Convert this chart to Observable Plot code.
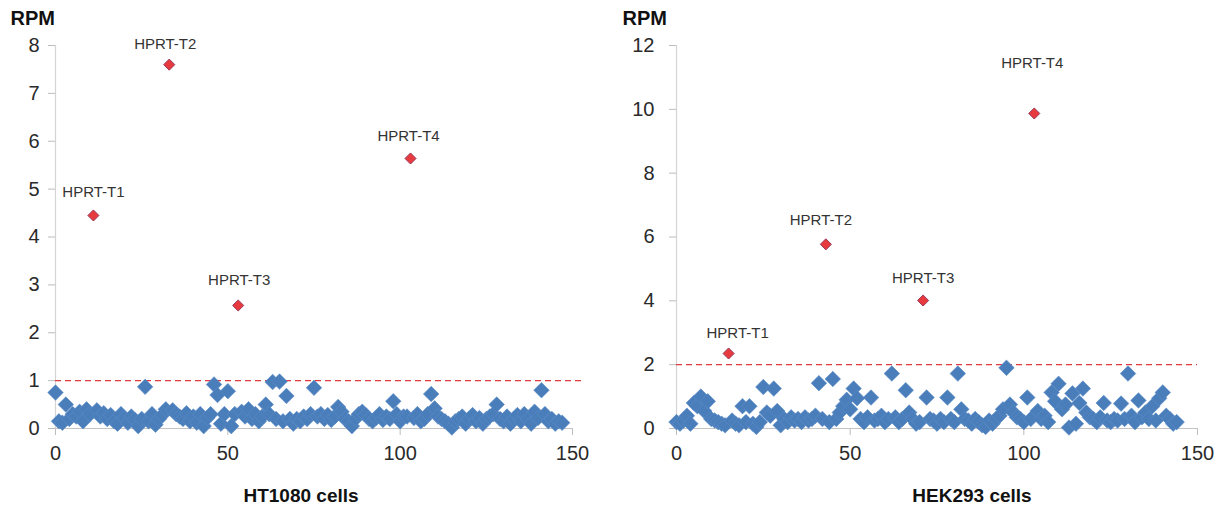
<!DOCTYPE html>
<html>
<head>
<meta charset="utf-8">
<script src="https://cdn.jsdelivr.net/npm/d3@7"></script>
<script src="https://cdn.jsdelivr.net/npm/@observablehq/plot@0.6"></script>
<style>
  html, body { margin: 0; padding: 0; background: #fff; }
  #wrap { display: flex; width: 1214px; height: 506px; }
  #wrap > div { width: 607px; height: 506px; }
  svg { overflow: visible; }
</style>
</head>
<body>
<div id="wrap"><div id="left"></div><div id="right"></div></div>
<script>
// ---------- data ----------
const xTicks = [0, 50, 100, 150];
const hitLabels = ["HPRT-T1", "HPRT-T2", "HPRT-T3", "HPRT-T4"];

// HT1080: RPM per guide index (null = HPRT hit, drawn in red)
const ht1080RPM = [
  0.75,0.15,0.12,0.5,0.2,0.3,0.25,0.35,0.15,0.4,0.3,null,0.38,0.25,0.32,0.2,0.28,0.15,0.1,0.3,
  0.22,0.12,0.25,0.18,0.05,0.2,0.87,0.15,0.3,0.08,0.2,0.28,0.4,null,0.38,0.3,0.25,0.2,0.32,0.15,
  0.25,0.12,0.3,0.05,0.22,0.3,0.92,0.7,0.1,0.3,0.78,0.05,0.3,null,0.35,0.25,0.4,0.2,0.3,0.15,
  0.25,0.5,0.3,0.97,0.2,0.98,0.15,0.68,0.2,0.1,0.2,0.15,0.25,0.2,0.3,0.85,0.25,0.3,0.2,0.28,
  0.18,0.25,0.45,0.35,0.2,0.15,0.05,0.2,0.3,0.35,0.28,0.2,0.15,0.22,0.3,0.18,0.25,0.2,0.57,0.3,
  0.15,0.25,0.25,null,0.22,0.3,0.15,0.2,0.3,0.72,0.42,0.25,0.2,0.15,0.1,0.02,0.15,0.2,0.25,0.1,
  0.2,0.28,0.15,0.22,0.1,0.2,0.25,0.3,0.5,0.2,0.15,0.25,0.1,0.2,0.28,0.15,0.3,0.2,0.1,0.35,
  0.22,0.8,0.3,0.15,0.2,0.1,0.15,0.12
];
const ht1080HitIndex = [11, 33, 53, 103];
const ht1080HitRPM = [4.45, 7.6, 2.57, 5.64];

// HEK293
const hek293RPM = [
  0.2,0.15,0.25,0.4,0.15,0.8,0.7,1.0,0.55,0.85,0.3,0.25,0.2,0.15,0.1,null,0.25,0.15,0.1,0.7,
  0.2,0.7,0.15,0.05,0.2,1.3,0.5,0.4,1.25,0.55,0.1,0.3,0.2,0.35,0.25,0.3,0.2,0.35,0.25,0.3,
  0.4,1.42,0.3,null,0.2,1.55,0.3,0.5,0.7,0.9,0.6,1.25,0.95,0.3,0.2,0.35,0.97,0.25,0.3,0.4,
  0.2,0.3,1.72,0.35,0.2,0.3,1.2,0.5,0.3,0.15,0.2,null,0.97,0.3,0.25,0.15,0.3,0.2,0.97,0.3,
  0.2,1.72,0.6,0.3,0.25,0.15,0.3,0.2,0.1,0.05,0.25,0.15,0.3,0.4,0.6,1.9,0.75,0.5,0.35,0.3,
  0.2,0.97,0.3,null,0.55,0.3,0.4,0.2,1.13,0.85,1.4,0.6,0.75,0.03,1.1,0.15,0.8,1.25,0.5,0.35,
  0.3,0.2,0.35,0.8,0.25,0.2,0.3,0.25,0.78,0.3,1.72,0.4,0.2,0.88,0.35,0.5,0.3,0.7,0.25,0.95,
  1.13,0.4,0.3,0.15,0.2
];
const hek293HitIndex = [15, 43, 71, 103];
const hek293HitRPM = [2.35, 5.77, 4.01, 9.87];

// ---------- layout / style (kept apart from data) ----------
const BLUE = "#4a7ebb";
const RED = "#e63a3f";
const FONT = "'Liberation Sans', Helvetica, Arial, sans-serif";

function panel(cfg) {
  const blue = cfg.values
    .map((v, i) => ({i, v}))
    .filter(d => d.v != null);
  const hits = cfg.hitIndex.map((i, k) => ({i, v: cfg.hitRPM[k], label: hitLabels[k]}));
  const labelMarks = hits.map((h, k) =>
    Plot.text([h], {x: "i", y: "v", text: "label", dx: cfg.labelOff[k][0], dy: cfg.labelOff[k][1],
      fontSize: 15, fill: "#333", lineAnchor: "middle"}));
  return Plot.plot({
    width: 607, height: 506,
    marginLeft: cfg.ml, marginRight: cfg.mr, marginTop: 45, marginBottom: 78,
    style: {fontFamily: FONT, background: "transparent", overflow: "visible"},
    x: {domain: [0, 150]},
    y: {domain: [0, cfg.yMax]},
    marks: [
      Plot.ruleX([0], {stroke: "#d4d4d4", strokeWidth: 1.2}),
      Plot.axisY({ticks: cfg.yTicks, tickSize: 7, tickPadding: cfg.yPad, fontSize: 20,
        stroke: "#bdbdbd", fill: "#2a2a2a", label: null}),
      Plot.axisX({ticks: xTicks, tickSize: 7, tickPadding: 10, fontSize: 20,
        stroke: "#bdbdbd", fill: "#2a2a2a", label: null}),
      Plot.ruleY([0], {stroke: "#c4c4c4", strokeWidth: 1.2}),
      Plot.ruleY([cfg.threshold], {x1: 0, x2: cfg.dashEnd, stroke: "#e0393e",
        strokeDasharray: "6,4", strokeWidth: 1.2, clip: false}),
      Plot.dot(blue, {x: "i", y: "v", symbol: "diamond2", r: 7, fill: BLUE,
        stroke: "#5a8bc6", strokeWidth: 0.6}),
      Plot.dot(hits, {x: "i", y: "v", symbol: "diamond2", r: 5, fill: RED,
        stroke: "#9a3b5e", strokeWidth: 1}),
      ...labelMarks,
      Plot.text(["RPM"], {text: d => d, frameAnchor: "top-left", dx: cfg.rpmDx, dy: -27,
        textAnchor: "start", lineAnchor: "middle", fontSize: 20, fontWeight: "bold", fill: "#111"}),
      Plot.text([cfg.xlabel], {text: d => d, frameAnchor: "bottom", dx: cfg.titleDx, dy: 67,
        lineAnchor: "middle", fontSize: 19, fontWeight: "bold", fill: "#111"})
    ]
  });
}

document.getElementById("left").append(panel({
  values: ht1080RPM, hitIndex: ht1080HitIndex, hitRPM: ht1080HitRPM,
  yMax: 8, yTicks: d3.range(0, 9, 1), threshold: 1, dashEnd: 153,
  xlabel: "HT1080 cells", ml: 55, mr: 35, yPad: 9, rpmDx: -45, titleDx: -13,
  labelOff: [[0, -23], [-4, -20], [1, -25], [-2, -22]]
}));

document.getElementById("right").append(panel({
  values: hek293RPM, hitIndex: hek293HitIndex, hitRPM: hek293HitRPM,
  yMax: 12, yTicks: d3.range(0, 13, 2), threshold: 2, dashEnd: 150,
  xlabel: "HEK293 cells", ml: 69, mr: 17, yPad: 15, rpmDx: -54, titleDx: 35,
  labelOff: [[9, -20], [-5, -24], [0, -22], [-2, -50]]
}));
</script>
</body>
</html>
